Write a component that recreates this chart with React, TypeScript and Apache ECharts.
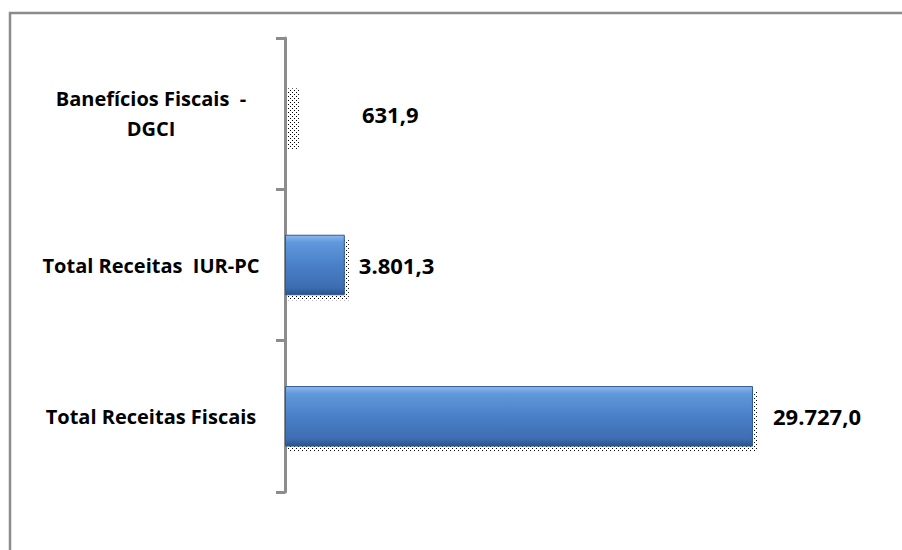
import React, { useEffect, useRef } from "react";
import * as echarts from "echarts";

const categories = ["Total Receitas Fiscais", "Total Receitas  IUR-PC", "Banefícios Fiscais  -\nDGCI"];
const values = [29727.0, 3801.3, 631.9];
const axisMax = 35000;

function fmt(v: number): string {
  const [i, d] = v.toFixed(1).split(".");
  return i.replace(/\B(?=(\d{3})+(?!\d))/g, ".") + "," + d;
}

function makeDots(): HTMLCanvasElement {
  const c = document.createElement("canvas");
  c.width = 4;
  c.height = 4;
  const ctx = c.getContext("2d")!;
  ctx.fillStyle = "#000";
  ctx.fillRect(0, 0, 1, 1);
  ctx.fillRect(2, 2, 1, 1);
  return c;
}

export default function App() {
  const ref = useRef<HTMLDivElement>(null);
  useEffect(() => {
    const chart = echarts.init(ref.current!, undefined, { renderer: "svg" });
    const dots = makeDots();
    const barFill = new echarts.graphic.LinearGradient(0, 0, 0, 1, [
      { offset: 0, color: "#8FB8EC" },
      { offset: 0.12, color: "#6098DC" },
      { offset: 0.5, color: "#4A80C8" },
      { offset: 0.88, color: "#3D6DB1" },
      { offset: 1, color: "#2A528A" },
    ]);
    chart.setOption({
      animation: false,
      graphic: [
        {
          type: "rect",
          shape: { x: 10, y: 13, width: 1000, height: 1000 },
          style: { fill: "none", stroke: "#8C8C8C", lineWidth: 2.5 },
          z: -10,
        },
      ],
      grid: { left: 285, right: 66, top: 38, bottom: 58 },
      xAxis: {
        type: "value",
        min: 0,
        max: axisMax,
        show: false,
      },
      yAxis: {
        type: "category",
        data: categories,
        axisLine: { show: true, lineStyle: { color: "#8C8C8C", width: 3 } },
        axisTick: { show: true, inside: false, length: 9, lineStyle: { color: "#8C8C8C", width: 3 } },
        axisLabel: {
          margin: 134,
          align: "center",
          color: "#000",
          fontFamily: "Open Sans",
          fontWeight: "bold",
          fontSize: 20,
          lineHeight: 30,
        },
      },
      series: [
        {
          type: "custom",
          z: 1,
          silent: true,
          data: values.map((v, i) => [v, i]),
          renderItem: (params: any, api: any) => {
            const v = api.value(0);
            const c = api.value(1);
            const p0 = api.coord([0, c]);
            const p1 = api.coord([v, c]);
            const h = api.size([0, 1])[1] * 0.4;
            return {
              type: "rect",
              shape: { x: p0[0] + 2, y: p0[1] - h / 2 + 5, width: p1[0] - p0[0] + 2, height: h },
              style: { fill: { image: dots, repeat: "repeat" } },
            };
          },
        },
        {
          type: "bar",
          z: 2,
          barCategoryGap: "60%",
          data: values.map((v, i) =>
            i === 2
              ? { value: v, itemStyle: { color: "transparent", borderWidth: 0 }, label: { distance: 67 } }
              : i === 1
              ? { value: v, label: { distance: 14 } }
              : { value: v }
          ),
          itemStyle: { color: barFill, borderColor: "#2E5A93", borderWidth: 1 },
          label: {
            show: true,
            position: "right",
            distance: 20,
            formatter: (p: any) => fmt(p.value),
            color: "#000",
            fontFamily: "Open Sans",
            fontWeight: "bold",
            fontSize: 22,
          },
        },
      ],
    });
    return () => chart.dispose();
  }, []);
  return (
    <div
      ref={ref}
      style={{ position: "absolute", left: 0, top: 0, width: 902, height: 550, background: "#fff" }}
    />
  );
}
